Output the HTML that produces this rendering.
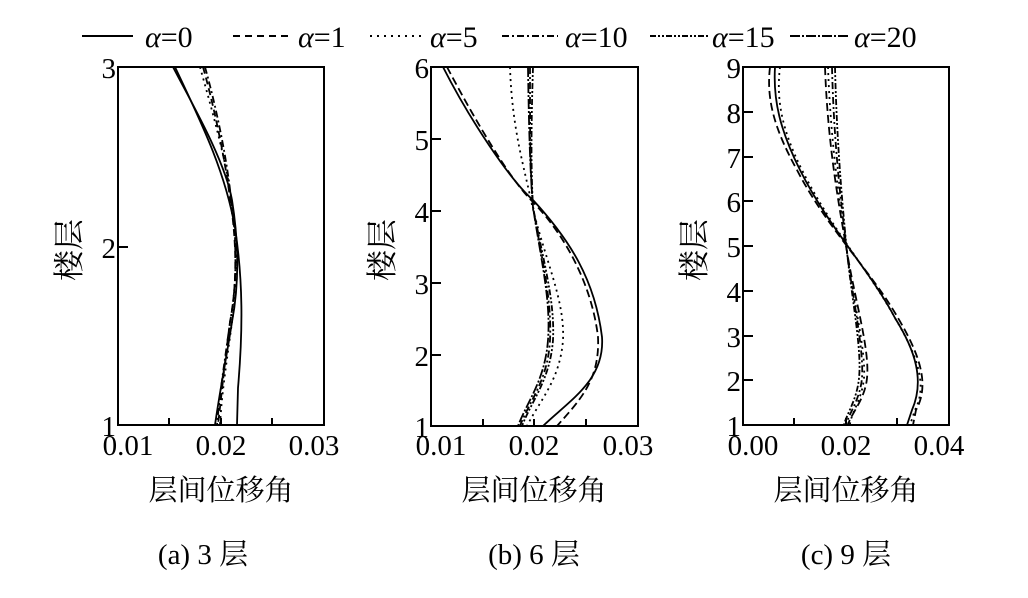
<!DOCTYPE html>
<html><head><meta charset="utf-8"><style>
body{margin:0;background:#fff}
svg text{font-family:"Liberation Serif","Noto Serif CJK SC",serif;fill:#000}
</style></head><body>
<svg width="1028" height="593" viewBox="0 0 1028 593" xmlns="http://www.w3.org/2000/svg">
<g font-size="30">
<line x1="82" y1="36" x2="133" y2="36" stroke="#000" stroke-width="2"/>
<text x="145" y="47"><tspan font-style="italic">α</tspan>=0</text>
<line x1="233" y1="36" x2="290" y2="36" stroke="#000" stroke-width="2" stroke-dasharray="7,5"/>
<text x="298" y="47"><tspan font-style="italic">α</tspan>=1</text>
<line x1="370" y1="36" x2="423" y2="36" stroke="#000" stroke-width="2" stroke-dasharray="2,5"/>
<text x="430" y="47"><tspan font-style="italic">α</tspan>=5</text>
<line x1="502" y1="36" x2="558" y2="36" stroke="#000" stroke-width="2" stroke-dasharray="7,3,2,3"/>
<text x="565" y="47"><tspan font-style="italic">α</tspan>=10</text>
<line x1="650" y1="36" x2="710" y2="36" stroke="#000" stroke-width="2" stroke-dasharray="6,2,2,2,2,2"/>
<text x="712" y="47"><tspan font-style="italic">α</tspan>=15</text>
<line x1="790" y1="36" x2="848" y2="36" stroke="#000" stroke-width="2" stroke-dasharray="10,2,2,2"/>
<text x="854" y="47"><tspan font-style="italic">α</tspan>=20</text>
</g>
<g fill="none" stroke="#000" stroke-width="2">
<rect x="118" y="67" width="206" height="358"/>
<path d="M118 247h10M169 425v-7M221 425v-7M272 425v-7"/>
<rect x="431" y="67" width="207" height="359"/>
<path d="M431 139h10M431 211h10M431 283h10M431 355h10M483 426v-7M534 426v-7M586 426v-7"/>
<rect x="743" y="67" width="206" height="358"/>
<path d="M743 112h10M743 157h10M743 201h10M743 246h10M743 291h10M743 336h10M743 380h10M794 425v-7M846 425v-7M897 425v-7"/>
</g>
<g fill="none" stroke="#000" stroke-width="1.8">
<path d="M175 67 C200 120 225 170 235 228 C243 280 243 330 238 388 L237 425"/>
<path d="M173 67 C190 100 225 160 232 200 C240 250 238 290 232 322 C226 360 220 390 215 425"/>
<path d="M203 67 C215 110 225 160 230 198 C238 250 236 290 230 322 C225 360 222 390 218 425" stroke-dasharray="7,4"/>
<path d="M200 67 C212 110 226 160 231 198 C238 250 237 290 232 322 C227 360 222 390 220 425" stroke-dasharray="2,4"/>
<path d="M205 67 C217 110 227 160 231 198 C238 250 236 290 230 322 C225 360 220 390 217 425" stroke-dasharray="7,3,2,3"/>
<path d="M443 67 C470 120 510 180 533 200 C570 240 595 280 602 337 C605 380 570 400 543 426"/>
<path d="M447 67 C475 120 510 180 533 202 C565 235 592 285 598 337 C600 380 580 400 557 426" stroke-dasharray="8,4"/>
<path d="M510 67 C512 130 525 170 532 205 C545 260 565 300 563 340 C560 380 540 400 527 426" stroke-dasharray="2,4"/>
<path d="M530 67 C530 130 530 170 533 207 C542 260 552 300 550 340 C548 380 530 400 520 426" stroke-dasharray="7,3,2,3"/>
<path d="M533 67 C531 130 531 170 533 207 C543 260 555 300 553 340 C550 380 532 400 522 426" stroke-dasharray="6,2,2,2,2,2"/>
<path d="M528 67 C529 130 530 170 533 207 C541 260 551 300 548 340 C545 380 528 400 518 426" stroke-dasharray="10,2,2,2"/>
<path d="M775 67 C773 100 780 130 800 170 C830 230 870 270 895 318 C915 350 925 380 912 410 L907 425"/>
<path d="M770 67 C766 100 775 130 797 170 C828 230 872 272 898 318 C920 355 930 385 916 410 L913 425" stroke-dasharray="8,4"/>
<path d="M780 67 C776 100 782 130 802 170 C832 230 870 272 895 318 C917 355 928 385 915 410 L910 425" stroke-dasharray="2,4"/>
<path d="M825 67 C828 150 840 210 847 252 C855 300 870 350 867 378 C865 400 850 415 848 425" stroke-dasharray="8,4"/>
<path d="M832 67 C834 150 842 210 847 252 C853 300 864 350 862 378 C860 400 848 415 846 425" stroke-dasharray="7,3,2,3"/>
<path d="M835 67 C837 150 843 210 847 252 C852 300 862 350 859 378 C857 400 846 415 844 425" stroke-dasharray="6,2,2,2,2,2"/>
<path d="M828 67 C831 150 841 210 847 252 C853 300 866 350 864 378 C862 400 850 415 850 425" stroke-dasharray="2,4"/>
</g>
<g font-size="29">
<g text-anchor="end">
<text x="116" y="78">3</text><text x="116" y="258">2</text><text x="116" y="436">1</text>
<text x="429" y="78">6</text><text x="429" y="150">5</text><text x="429" y="222">4</text><text x="429" y="294">3</text><text x="429" y="366">2</text><text x="429" y="437">1</text>
<text x="741" y="78">9</text><text x="741" y="123">8</text><text x="741" y="168">7</text><text x="741" y="212">6</text><text x="741" y="257">5</text><text x="741" y="302">4</text><text x="741" y="347">3</text><text x="741" y="391">2</text><text x="741" y="436">1</text>
</g>
<g text-anchor="middle">
<text x="128" y="455">0.01</text><text x="221" y="455">0.02</text><text x="314" y="455">0.03</text>
<text x="441" y="455">0.01</text><text x="534" y="455">0.02</text><text x="628" y="455">0.03</text>
<text x="753" y="455">0.00</text><text x="846" y="455">0.02</text><text x="939" y="455">0.04</text>
<text x="221" y="500">层间位移角</text><text x="534" y="500">层间位移角</text><text x="846" y="500">层间位移角</text>
<text x="203" y="564">(a) 3 层</text><text x="534" y="564">(b) 6 层</text><text x="846" y="564">(c) 9 层</text>
</g>
<text transform="translate(80,250) rotate(-90)" text-anchor="middle" font-size="31">楼层</text>
<text transform="translate(393,250) rotate(-90)" text-anchor="middle" font-size="31">楼层</text>
<text transform="translate(705,250) rotate(-90)" text-anchor="middle" font-size="31">楼层</text>
</g>
</svg>
</body></html>
